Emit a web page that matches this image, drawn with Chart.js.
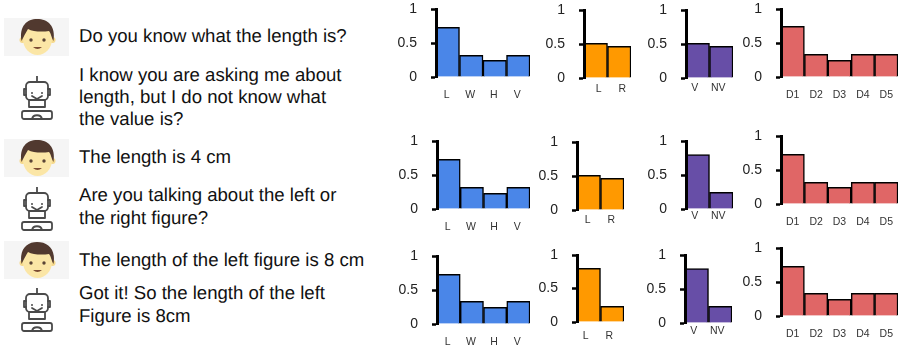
<!DOCTYPE html>
<html>
<head>
<meta charset="utf-8">
<script src="https://cdn.jsdelivr.net/npm/chart.js@4"></script>
<style>
  body { margin: 0; background: #fff; width: 901px; height: 352px; position: relative; overflow: hidden; font-family: "Liberation Sans", Arial, sans-serif; }
  canvas { position: absolute; }
  .line { position: absolute; left: 79px; font-size: 18.6px; line-height: 22px; color: #111; white-space: nowrap; text-rendering: geometricPrecision; }
  .icon { position: absolute; }
</style>
</head>
<body>
<svg width="0" height="0" style="position:absolute">
  <symbol id="boy" viewBox="0 0 65 38">
    <rect width="65" height="38" fill="#f5f5f5"/>
    <circle cx="18.5" cy="22" r="3" fill="#f6d98c"/>
    <circle cx="48.5" cy="22" r="3" fill="#f6d98c"/>
    <ellipse cx="33.5" cy="21" rx="14.5" ry="16" fill="#fbe6a6"/>
    <path d="M17.5 23 C15 8 23 1 33 1 C44 1 52 8 49.5 23 C47.5 20 47 15 45 13 C39 14 29 14 24 11 C21.5 15 19.5 19 17.5 23 Z" fill="#51392f"/>
    <circle cx="27" cy="22" r="1.7" fill="#5a4436"/>
    <circle cx="40" cy="22" r="1.7" fill="#5a4436"/>
    <path d="M29 29 Q33.5 33 38 29 Z" fill="#7a4a32"/>
  </symbol>
  <symbol id="robot" viewBox="0 0 32 44">
    <g fill="none" stroke="#4a4a4a" stroke-width="1.8" stroke-linecap="round" stroke-linejoin="round">
      <path d="M16 0.5 V6"/>
      <rect x="5" y="6" width="22" height="18" rx="4"/>
      <path d="M5 13 H3 V19 H5 M27 13 H29 V19 H27"/>
      <path d="M11 20 L16 23 L21 20"/>
      <path d="M8 24 V31 H24 V24"/>
      <rect x="1" y="35" width="30" height="8" rx="2"/>
      <path d="M11 43 C12 38 20 38 21 43"/>
    </g>
    <circle cx="11" cy="17" r="1" fill="#4a4a4a"/>
    <circle cx="21" cy="17" r="1" fill="#4a4a4a"/>
  </symbol>
</svg>
<script>
// dialogue text
const dialogueLines = [
  'Do you know what the length is?',
  'I know you are asking me about',
  'length, but I do not know what',
  'the value is?',
  'The length is 4 cm',
  'Are you talking about the left or',
  'the right figure?',
  'The length of the left figure is 8 cm',
  'Got it! So the length of the left',
  'Figure is 8cm'
];
const dialogueCentres = [36, 75, 97, 119, 157, 195, 218, 260, 293, 316];

// categories and tick labels
const dimensionLabels = ['L', 'W', 'H', 'V'];
const sideLabels = ['L', 'R'];
const verbLabels = ['V', 'NV'];
const dayLabels = ['D1', 'D2', 'D3', 'D4', 'D5'];
const yTicks = [0, 0.5, 1];

// values, one row of the figure per line
const dimensionRow1 = [0.73, 0.32, 0.245, 0.32];
const sideRow1 = [0.51, 0.466];
const verbRow1 = [0.51, 0.466];
const dayRow1 = [0.745, 0.333, 0.245, 0.333, 0.333];

const dimensionRow2 = [0.73, 0.32, 0.23, 0.32];
const sideRow2 = [0.51, 0.466];
const verbRow2 = [0.8, 0.245];
const dayRow2 = [0.73, 0.32, 0.245, 0.32, 0.32];

const dimensionRow3 = [0.73, 0.334, 0.245, 0.334];
const sideRow3 = [0.8, 0.234];
const verbRow3 = [0.8, 0.245];
const dayRow3 = [0.73, 0.334, 0.245, 0.334, 0.334];

const BLUE = '#4a86e8', ORANGE = '#ff9900', PURPLE = '#674ea7', RED = '#e06666';

// axis x, y of 1, right edge, y of 0, centre of x labels, x label shift
const panels = [
  [dimensionLabels, dimensionRow1, BLUE, 436, 9, 530, 77, 95, -1],
  [sideLabels, sideRow1, ORANGE, 584, 10, 631, 78, 89, 3],
  [verbLabels, verbRow1, PURPLE, 686, 10, 733, 78, 88, -3],
  [dayLabels, dayRow1, RED, 781, 9, 898, 77, 95, 0],
  [dimensionLabels, dimensionRow2, BLUE, 437, 141, 530, 209, 227, -1],
  [sideLabels, sideRow2, ORANGE, 577, 142, 624, 210, 220, -1],
  [verbLabels, verbRow2, PURPLE, 686, 141, 733, 209, 216, -3],
  [dayLabels, dayRow2, RED, 781, 136, 898, 204, 222, 0],
  [dimensionLabels, dimensionRow3, BLUE, 437, 256, 530, 324, 342, -1],
  [sideLabels, sideRow3, ORANGE, 577, 255, 624, 322, 336, -3],
  [verbLabels, verbRow3, PURPLE, 685, 255, 732, 323, 331, -3],
  [dayLabels, dayRow3, RED, 781, 248, 898, 316, 334, 0]
];

function addIcon(id, left, top, width, height) {
  const svg = document.createElementNS('http://www.w3.org/2000/svg', 'svg');
  svg.setAttribute('class', 'icon');
  svg.setAttribute('width', width);
  svg.setAttribute('height', height);
  svg.style.left = left + 'px';
  svg.style.top = top + 'px';
  const use = document.createElementNS('http://www.w3.org/2000/svg', 'use');
  use.setAttribute('href', '#' + id);
  svg.appendChild(use);
  document.body.appendChild(svg);
}

[18, 139, 241].forEach(top => addIcon('boy', 4, top, 65, 38));
[76, 187, 288].forEach(top => addIcon('robot', 21, top, 32, 44));

dialogueLines.forEach((text, i) => {
  const div = document.createElement('div');
  div.className = 'line';
  div.textContent = text;
  div.style.top = (dialogueCentres[i] - 11) + 'px';
  document.body.appendChild(div);
});

const AXIS_SPACE = 40, TOP_SPACE = 10, RIGHT_SPACE = 2, BOTTOM_SPACE = 30;

panels.forEach(([labels, values, colour, axisX, topY, rightX, baseY, labelY, labelShift]) => {
  const canvas = document.createElement('canvas');
  const width = rightX - axisX + AXIS_SPACE + RIGHT_SPACE;
  const height = baseY - topY + TOP_SPACE + BOTTOM_SPACE;
  canvas.width = width;
  canvas.height = height;
  canvas.style.left = (axisX - AXIS_SPACE) + 'px';
  canvas.style.top = (topY - TOP_SPACE) + 'px';
  canvas.style.width = width + 'px';
  canvas.style.height = height + 'px';
  document.body.appendChild(canvas);

  new Chart(canvas, {
    type: 'bar',
    data: {
      labels: labels,
      datasets: [{
        data: values,
        backgroundColor: colour,
        borderColor: '#000',
        borderWidth: 1.5,
        barPercentage: 1,
        categoryPercentage: 1
      }]
    },
    options: {
      responsive: false,
      animation: false,
      layout: { padding: { top: TOP_SPACE, right: RIGHT_SPACE, left: 0, bottom: 0 } },
      plugins: { legend: { display: false }, tooltip: { enabled: false } },
      scales: {
        x: {
          // the label overhang must not shrink the plot, its edges are fixed
          afterFit: axis => { axis.height = BOTTOM_SPACE; axis.paddingLeft = 0; axis.paddingRight = 0; },
          grid: { display: false, drawTicks: false },
          border: { display: false },
          ticks: {
            autoSkip: false,
            maxRotation: 0,
            labelOffset: labelShift,
            padding: labelY - baseY - 6,
            color: '#333',
            font: { family: '"Liberation Sans"', size: 10.5 }
          }
        },
        y: {
          min: 0,
          max: 1,
          afterFit: axis => { axis.width = AXIS_SPACE; axis.paddingTop = 0; axis.paddingBottom = 0; },
          afterBuildTicks: axis => { axis.ticks = yTicks.map(value => ({ value })); },
          grid: { drawOnChartArea: false, tickLength: 5, tickWidth: 2.5, tickColor: '#000' },
          border: { display: true, color: '#000', width: 3, z: 1 },
          ticks: {
            padding: 14,
            color: '#222',
            font: { family: '"Liberation Sans"', size: 14 },
            callback: value => String(value)
          }
        }
      }
    }
  });
});
</script>
</body>
</html>
